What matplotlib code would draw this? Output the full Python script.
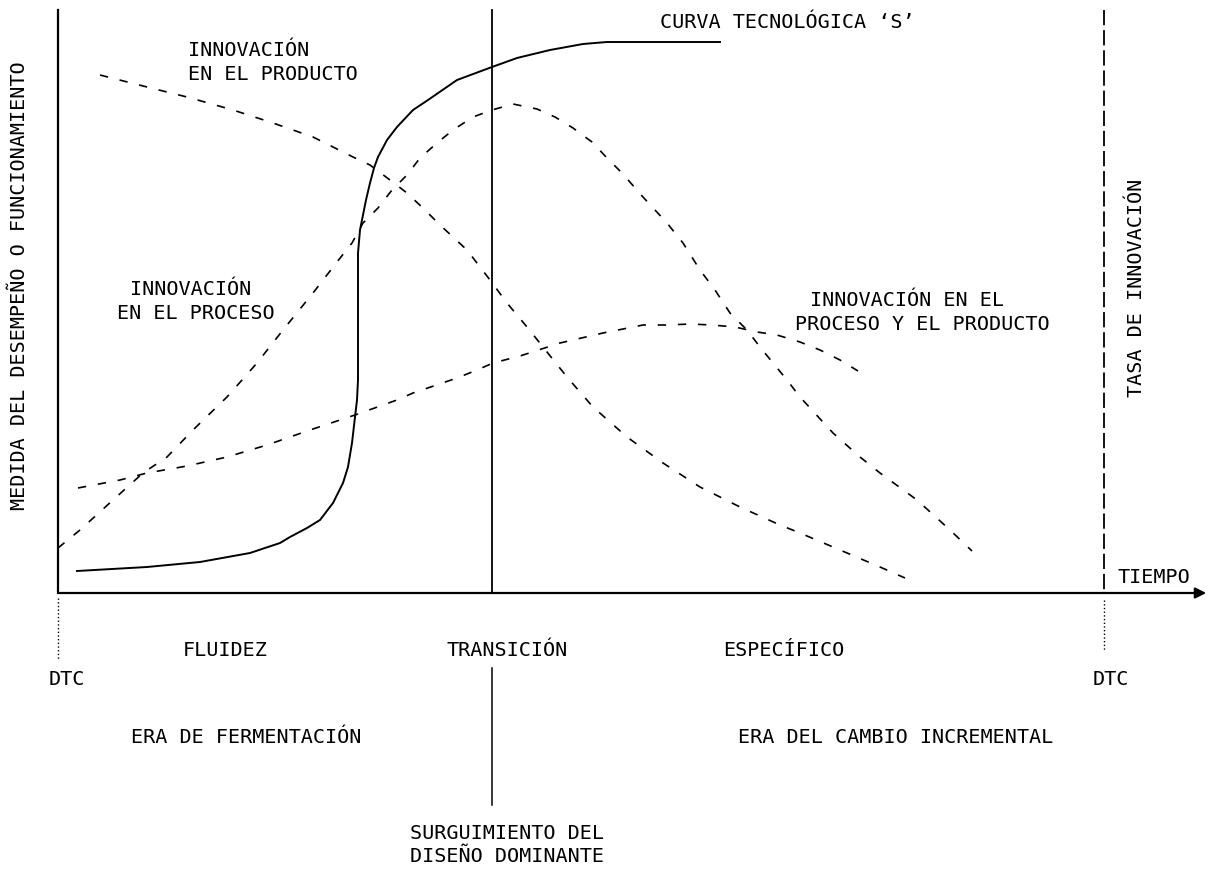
import matplotlib
matplotlib.use("Agg")
import matplotlib.pyplot as plt

# curves (canvas pixel units, y grows downwards)
s_curve_x = [77, 147, 200, 250, 280, 290, 307, 320, 333, 343, 348, 352, 355, 357, 358, 358, 360,
             362, 366, 370, 374, 378, 387, 397, 413, 428, 457, 492, 517, 550, 583, 607, 720]
s_curve_y = [571, 567, 562, 553, 543, 537, 528, 520, 503, 483, 467, 443, 417, 400, 380, 253, 230,
             220, 200, 183, 168, 157, 140, 127, 110, 100, 80, 67, 58, 50, 44, 42, 42]

product_x = [100, 147, 187, 233, 273, 313, 333, 353, 370, 390, 407, 425, 440, 467, 490, 507, 527,
             543, 567, 593, 627, 663, 700, 740, 780, 800, 840, 880, 905]
product_y = [75, 87, 97, 110, 123, 137, 147, 157, 165, 180, 193, 210, 225, 250, 280, 303, 327,
             347, 377, 407, 437, 463, 487, 507, 525, 533, 550, 567, 578]

process_x = [58, 80, 113, 143, 167, 193, 227, 257, 283, 313, 337, 352, 363, 378, 392, 407, 420,
             437, 453, 473, 492, 513, 537, 555, 573, 592, 607, 622, 643, 667, 683, 700, 715,
             730, 747, 760, 773, 787, 800, 833, 860, 880, 917, 950, 972]
process_y = [548, 530, 500, 473, 457, 430, 397, 363, 330, 293, 262, 243, 223, 208, 190, 175, 158,
             143, 130, 117, 110, 104, 109, 117, 128, 142, 158, 173, 197, 223, 243, 270, 290,
             313, 330, 347, 363, 380, 397, 433, 457, 473, 500, 530, 551]

both_x = [78, 120, 147, 187, 227, 267, 310, 355, 397, 413, 457, 477, 493, 520, 560, 603, 643, 667,
          690, 712, 735, 757, 777, 800, 820, 840, 858]
both_y = [488, 480, 473, 466, 457, 445, 430, 415, 400, 393, 378, 370, 363, 356, 343, 333, 325, 325,
          324, 325, 327, 332, 335, 342, 350, 360, 371]

plt.rcParams['font.family'] = ['DejaVu Sans Mono']
plt.rcParams['lines.scale_dashes'] = False

fig = plt.figure(figsize=(12.1, 8.72), dpi=100)
ax = fig.add_axes([0, 0, 1, 1])
ax.set_xlim(0, 1210)
ax.set_ylim(872, 0)
ax.axis('off')

k = 'black'
fs = 14.5

# axes of the diagram
ax.plot([58, 58], [10, 593], color=k, lw=1.6)
ax.annotate('', xy=(1209, 593), xytext=(57, 593),
            arrowprops=dict(arrowstyle='-|>', color=k, lw=1.6, mutation_scale=16))
ax.plot([492, 492], [10, 593], color=k, lw=1.3)
ax.plot([492, 492], [668, 805], color=k, lw=1.1)
ax.plot([1104, 1104], [10, 593], color=k, lw=1.3, dashes=(11, 3.5))
ax.plot([58, 58], [598, 660], color=k, lw=1.0, linestyle=':')
ax.plot([1104, 1104], [600, 650], color=k, lw=1.0, linestyle=':')

# curves
ax.plot(s_curve_x, s_curve_y, color=k, lw=1.4)
for xs, ys in [(product_x, product_y), (process_x, process_y), (both_x, both_y)]:
    ax.plot(xs, ys, color=k, lw=1.2, dashes=(6, 8.5))

# labels
ax.text(660, 23, "CURVA TECNOLÓGICA ‘S’", fontsize=fs, va='center', ha='left')
ax.text(188, 50, "INNOVACIÓN", fontsize=fs, va='center', ha='left')
ax.text(188, 75, "EN EL PRODUCTO", fontsize=fs, va='center', ha='left')
ax.text(130, 289, "INNOVACIÓN", fontsize=fs, va='center', ha='left')
ax.text(117, 313, "EN EL PROCESO", fontsize=fs, va='center', ha='left')
ax.text(810, 300, "INNOVACIÓN EN EL", fontsize=fs, va='center', ha='left')
ax.text(795, 324, "PROCESO Y EL PRODUCTO", fontsize=fs, va='center', ha='left')
ax.text(1118, 577, "TIEMPO", fontsize=fs, va='center', ha='left')
ax.text(1136, 288, "TASA DE INNOVACIÓN", fontsize=fs, va='center', ha='center', rotation=90)
ax.text(20, 286, "MEDIDA DEL DESEMPEÑO O FUNCIONAMIENTO", fontsize=fs, va='center',
        ha='center', rotation=90)

ax.text(225, 650, "FLUIDEZ", fontsize=fs, va='center', ha='center')
ax.text(507, 650, "TRANSICIÓN", fontsize=fs, va='center', ha='center')
ax.text(784, 650, "ESPECÍFICO", fontsize=fs, va='center', ha='center')
ax.text(67, 679, "DTC", fontsize=fs, va='center', ha='center')
ax.text(1111, 679, "DTC", fontsize=fs, va='center', ha='center')
ax.text(246, 737, "ERA DE FERMENTACIÓN", fontsize=fs, va='center', ha='center')
ax.text(896, 737, "ERA DEL CAMBIO INCREMENTAL", fontsize=fs, va='center', ha='center')
ax.text(410, 833, "SURGUIMIENTO DEL", fontsize=fs, va='center', ha='left')
ax.text(410, 856, "DISEÑO DOMINANTE", fontsize=fs, va='center', ha='left')

fig.savefig('out.png', dpi=100)
